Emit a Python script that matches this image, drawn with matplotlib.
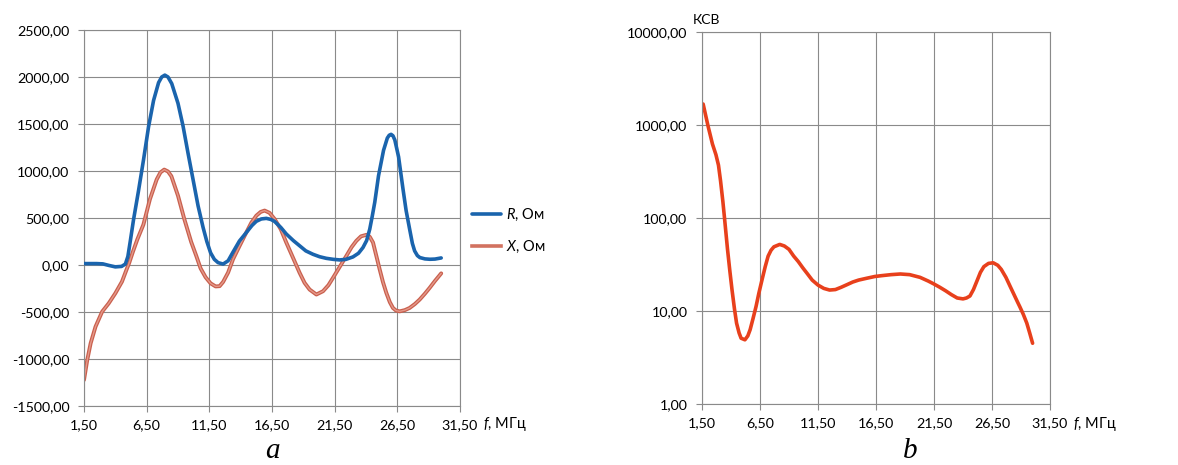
import matplotlib
matplotlib.use("Agg")
import matplotlib.pyplot as plt
from matplotlib.ticker import FixedLocator, FuncFormatter, NullLocator

plt.rcParams['font.family'] = ['Lato', 'Open Sans', 'DejaVu Sans']
plt.rcParams['mathtext.fontset'] = 'custom'
plt.rcParams['mathtext.rm'] = 'Lato'
plt.rcParams['mathtext.it'] = 'Lato:italic'

# --- data ---
# (a) R and X, Ohm vs frequency, MHz
f_r = [1.5, 2.0, 2.5, 3.0, 3.5, 4.0, 4.5, 4.8, 5.0, 5.2, 5.45, 5.85, 6.25, 6.65,
       7.05, 7.45, 7.7, 7.95, 8.2, 8.5, 9.0, 9.4, 9.8, 10.2, 10.6, 11.0, 11.3,
       11.6, 11.9, 12.2, 12.6, 13.0, 13.4, 13.9, 14.45, 14.9, 15.25, 15.65, 16.05,
       16.4, 16.7, 17.2, 17.64, 18.2, 18.7, 19.2, 19.77, 20.3, 20.83, 21.4,
       21.9, 22.4, 22.96, 23.4, 23.76, 24.05, 24.3, 24.5, 24.7, 25.0, 25.4,
       25.7, 25.85, 26.0, 26.15, 26.3, 26.6, 26.95, 27.2, 27.48, 27.7, 27.88,
       28.1, 28.3, 28.7, 29.1, 29.5, 30.0]
r_ohm = [15, 15, 15, 12, -5, -20, -15, 10, 90, 260, 480, 790, 1120, 1470,
         1750, 1940, 2000, 2020, 2000, 1930, 1720, 1480, 1190, 910, 630, 400, 250,
         130, 60, 25, 10, 45, 140, 255, 345, 420, 465, 490, 496,
         485, 464, 400, 330, 260, 205, 150, 114, 88, 71, 60,
         54, 60, 86, 125, 186, 260, 382, 520, 668, 950, 1220,
         1350, 1380, 1390, 1375, 1330, 1150, 810, 580, 382, 230, 150,
         100, 79, 65, 61, 63, 75]

f_x = [1.5, 1.76, 2.03, 2.42, 2.95, 3.47, 4.0, 4.53, 4.92, 5.1, 5.4, 5.75, 6.24,
       6.76, 7.3, 7.6, 7.9, 8.2, 8.47, 9.0, 9.5, 10.05, 10.45, 10.8, 11.2, 11.6,
       12.0, 12.32, 12.6, 13.0, 13.39, 13.9, 14.45, 14.85, 15.25, 15.6, 15.91,
       16.3, 16.71, 17.2, 17.64, 18.2, 18.7, 19.1, 19.5, 20.04, 20.57, 21.0,
       21.37, 21.9, 22.43, 22.85, 23.23, 23.6, 24.03, 24.3, 24.56, 24.8, 25.09,
       25.35, 25.62, 25.9, 26.15, 26.4, 26.69, 27.1, 27.48, 27.9, 28.28, 28.7,
       29.08, 29.5, 30.0]
x_ohm = [-1223, -1010, -833, -656, -496, -408, -301, -177, -40, 20, 140, 270, 430,
         700, 910, 985, 1015, 995, 945, 737, 490, 246, 100, -35, -130, -195,
         -228, -225, -180, -80, 61, 200, 346, 450, 525, 565, 579,
         555, 489, 380, 239, 70, -82, -190, -261, -314, -279, -215,
         -136, -20, 96, 190, 257, 305, 321, 300, 239, 110, -46,
         -180, -296, -395, -457, -485, -493, -480, -457, -415, -368, -305,
         -243, -170, -89]

# (b) VSWR vs frequency
f_v = [1.6, 2.02, 2.4, 2.7, 2.92, 3.1, 3.3, 3.44, 3.7, 3.9, 4.09, 4.3, 4.48, 4.7,
       4.87, 5.2, 5.45, 5.65, 5.9, 6.16, 6.4, 6.68, 6.95, 7.2, 7.45, 7.7, 8.2,
       8.6, 9.0, 9.4, 9.8, 10.2, 10.6, 11.0, 11.5, 12.0, 12.5, 13.0, 13.5, 14.0,
       14.5, 15.0, 15.7, 16.4, 17.0, 17.8, 18.6, 19.4, 20.3, 21.0, 21.5, 22.0,
       22.5, 23.0, 23.5, 24.0, 24.3, 24.6, 24.9, 25.2, 25.5, 25.8, 26.2, 26.6,
       27.0, 27.3, 27.7, 28.1, 28.4, 28.7, 28.9, 29.2, 29.5, 29.75, 30.0]
vswr = [1680, 975, 625, 480, 370, 250, 150, 100, 46, 27, 16.8, 10.5, 7.4, 5.8,
        5.1, 4.9, 5.4, 6.3, 8.3, 11.2, 15.5, 21.8, 30, 38.9, 45, 49, 52,
        50, 46, 39, 34, 29, 25, 21.5, 19, 17.5, 16.8, 17, 18, 19.2,
        20.5, 21.5, 22.5, 23.5, 24, 24.6, 25, 24.6, 23, 21, 19.5, 18,
        16.5, 15, 13.8, 13.5, 13.8, 14.5, 17, 21, 26, 30, 32.5, 33,
        31, 28, 23, 18, 15, 12.5, 11.1, 9.2, 7.4, 5.8, 4.5]

x_ticks = [1.5, 6.5, 11.5, 16.5, 21.5, 26.5, 31.5]
ya_ticks = [-1500, -1000, -500, 0, 500, 1000, 1500, 2000, 2500]
yb_ticks = [1, 10, 100, 1000, 10000]

grid_c = '#8a8a8a'
comma = FuncFormatter(lambda v, p: f"{v:.2f}".replace('.', ','))

fig = plt.figure(figsize=(11.78, 4.65), dpi=100)
ax1 = fig.add_axes([84/1178, 1 - 406/465, 376/1178, 376/465])
ax2 = fig.add_axes([702/1178, 1 - 404/465, 348/1178, 372/465])

for ax in (ax1, ax2):
    ax.set_xlim(1.5, 31.5)
    ax.xaxis.set_major_locator(FixedLocator(x_ticks))
    ax.xaxis.set_major_formatter(comma)
    ax.grid(True, color=grid_c, lw=0.8)
    ax.set_axisbelow(True)
    for s in ax.spines.values():
        s.set_color(grid_c)
        s.set_linewidth(0.8)
    ax.tick_params(direction='out', length=4, width=0.8, color=grid_c,
                   labelsize=10.3, pad=6.5)
    ax.tick_params(axis='x', pad=5.5)

line_kw = dict(solid_joinstyle='round', solid_capstyle='round')

# (a)
ax1.plot(f_r, r_ohm, color='#1a64ad', lw=2.6, label='$R$, Ом', zorder=3, **line_kw)
ax1.plot(f_x, x_ohm, color='#c9604e', lw=2.8, zorder=2, **line_kw)
ax1.plot(f_x, x_ohm, color='#e5998a', lw=1.0, zorder=2, **line_kw)
ax1.plot([], [], color='#d27260', lw=2.6, label='$X$, Ом')
ax1.set_ylim(-1500, 2500)
ax1.yaxis.set_major_locator(FixedLocator(ya_ticks))
ax1.yaxis.set_major_formatter(comma)
ax1.legend(loc='center left', bbox_to_anchor=(472/1178, 1 - 231/465),
           bbox_transform=fig.transFigure, frameon=False, fontsize=10.5,
           handlelength=2.0, handletextpad=0.3, labelspacing=1.1,
           borderpad=0, borderaxespad=0)

# (b)
ax2.plot(f_v, vswr, color='#e8401c', lw=2.6, **line_kw)
ax2.set_yscale('log')
ax2.set_ylim(1, 10000)
ax2.yaxis.set_major_locator(FixedLocator(yb_ticks))
ax2.yaxis.set_minor_locator(NullLocator())
ax2.yaxis.set_major_formatter(comma)

fig.text(483/1178, 1 - 424/465, '$f$, МГц', fontsize=10.5, va='center', ha='left')
fig.text(1073/1178, 1 - 424/465, '$f$, МГц', fontsize=10.5, va='center', ha='left')
fig.text(693/1178, 1 - 20/465, 'КСВ', fontsize=10, va='center', ha='left')

fig.text(272/1178, 7/465, 'a', family='Liberation Serif', style='italic',
         fontsize=21, ha='center', va='baseline')
fig.text(910/1178, 7/465, 'b', family='Liberation Serif', style='italic',
         fontsize=21, ha='center', va='baseline')

fig.savefig('out.png', dpi=100, facecolor='white')
